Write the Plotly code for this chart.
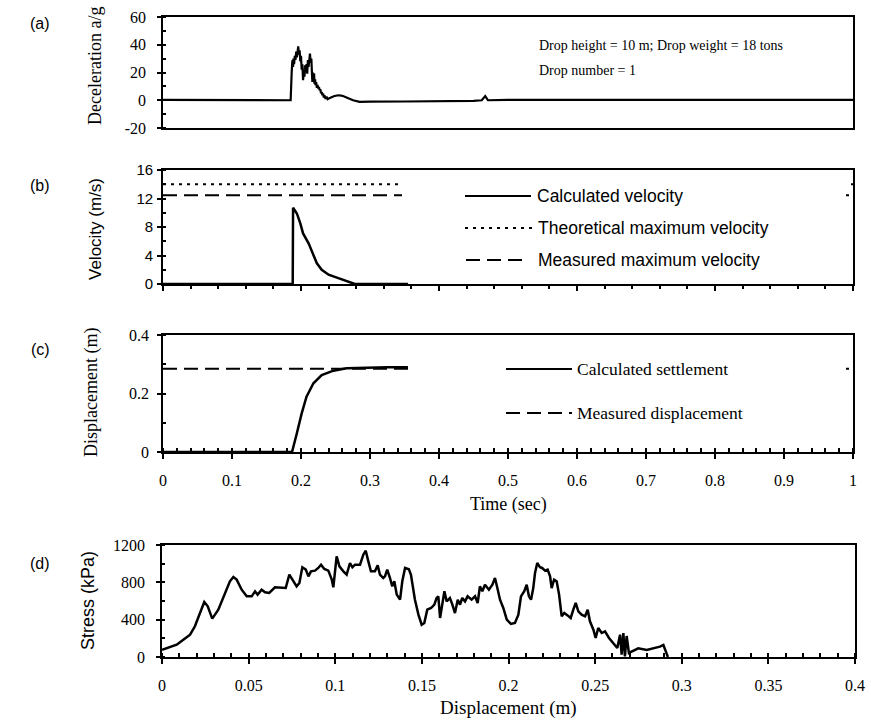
import plotly.graph_objects as go

W, H = 871, 720
SERIF = "Liberation Serif"
SANS = "Liberation Sans"

# ---------------- data ----------------
# (a) deceleration vs time
acc_time = [0, 0.05, 0.10, 0.15, 0.18, 0.185, 0.1865, 0.1875, 0.1885, 0.189, 0.190, 0.191,
            0.192, 0.193, 0.194, 0.195, 0.196, 0.197, 0.198, 0.199, 0.200, 0.201, 0.202,
            0.203, 0.204, 0.205, 0.206, 0.207, 0.208, 0.209, 0.210, 0.211, 0.212, 0.213,
            0.214, 0.215, 0.216, 0.2165, 0.2175, 0.218, 0.219, 0.2195, 0.2205, 0.221, 0.222,
            0.223, 0.224, 0.225, 0.226, 0.227, 0.228, 0.229, 0.230, 0.231, 0.232, 0.233,
            0.234, 0.2355, 0.237, 0.2385, 0.241, 0.244, 0.2475, 0.252, 0.255, 0.26, 0.2635,
            0.2675, 0.2715, 0.2755, 0.285, 0.30, 0.35, 0.40, 0.45, 0.462, 0.467, 0.471,
            0.50, 0.60, 0.70, 0.80, 0.90, 1.0]
acc_g = [0.3, 0.2, 0.3, 0.2, 0.3, 0.0, 20, 28.8, 24, 30, 26, 32,
         29, 35, 31, 37, 38.9, 33, 36, 28, 32, 22, 26,
         14.4, 21, 17, 25.2, 20, 26, 19.2, 29, 24, 31, 33.6,
         27, 30, 18, 13.2, 20, 16, 19.2, 12, 15, 10.8, 13,
         9, 11, 8.4, 9.5, 7.2, 8, 5, 6, 3.6, 5, 2,
         3.5, 1.0, 2.5, 0.8, 1.5, 2.2, 2.9, 3.4, 3.6, 3.2, 2.5,
         1.9, 0.8, 0, -1.2, -1.0, -0.9, -0.8, -0.5, 0, 3, 0,
         0.3, 0.2, 0.3, 0.2, 0.3, 0.2]

# (b) velocity vs time
vel_time = [0, 0.05, 0.10, 0.15, 0.188, 0.1885, 0.194, 0.199, 0.203, 0.211, 0.218, 0.223,
            0.230, 0.240, 0.252, 0.261, 0.271, 0.278, 0.30, 0.33, 0.355]
vel_calc = [0, 0, 0, 0, 0, 10.7, 9.9, 8.5, 7.1, 5.7, 4.1, 2.9,
            2.0, 1.3, 0.9, 0.56, 0.2, 0, 0, 0, 0]
v_theoretical = 14.0
v_measured = 12.45

# (c) displacement vs time
set_time = [0, 0.05, 0.10, 0.15, 0.187, 0.194, 0.201, 0.208, 0.218, 0.230, 0.247, 0.266,
            0.295, 0.325, 0.355]
set_calc = [0, 0, 0, 0, 0, 0.064, 0.132, 0.189, 0.235, 0.263, 0.278, 0.286,
            0.289, 0.29, 0.29]
d_measured = 0.285

# (d) stress vs displacement
sd_disp = [0.0, 0.0037, 0.0085, 0.0123, 0.0162, 0.019, 0.0219, 0.0244, 0.0264, 0.029,
           0.0325, 0.0364, 0.0392, 0.0412, 0.0431, 0.046, 0.0489, 0.0518, 0.0537, 0.0552,
           0.0575, 0.0595, 0.0619, 0.0652, 0.0691, 0.0714, 0.0735, 0.0752, 0.0777, 0.0793,
           0.081, 0.083, 0.0845, 0.086, 0.0883, 0.0902, 0.0918, 0.0937, 0.096, 0.098,
           0.0989, 0.1008, 0.1024, 0.1047, 0.1066, 0.1085, 0.1099, 0.1114, 0.1143, 0.1162,
           0.1176, 0.1191, 0.1206, 0.1229, 0.1245, 0.1258, 0.1277, 0.1287, 0.13, 0.1316,
           0.1329, 0.1341, 0.1355, 0.1374, 0.1387, 0.1403, 0.1425, 0.1437, 0.1446, 0.146,
           0.148, 0.1499, 0.1514, 0.1531, 0.1553, 0.1572, 0.1585, 0.1595, 0.1605, 0.1618,
           0.163, 0.1643, 0.1662, 0.1676, 0.1691, 0.1707, 0.172, 0.1733, 0.1749, 0.1764,
           0.1787, 0.1807, 0.1822, 0.1835, 0.1849, 0.1864, 0.1887, 0.1907, 0.1922, 0.1938,
           0.1951, 0.197, 0.199, 0.2014, 0.2037, 0.2057, 0.2072, 0.2091, 0.2105, 0.2118,
           0.213, 0.2143, 0.2153, 0.2166, 0.2182, 0.2194, 0.2211, 0.2226, 0.224, 0.2249,
           0.2263, 0.2278, 0.2292, 0.2307, 0.2322, 0.2341, 0.2359, 0.2374, 0.2388, 0.2403,
           0.2422, 0.2442, 0.2457, 0.247, 0.249, 0.2503, 0.2518, 0.2538, 0.2557, 0.258,
           0.2605, 0.2628, 0.2644, 0.2653, 0.2663, 0.2672, 0.2682, 0.2695, 0.271, 0.2749,
           0.2798, 0.2836, 0.2874, 0.2894, 0.2913, 0.292]
sd_stress = [78, 104, 132, 186, 239, 329, 471, 589, 543, 411,
             507, 686, 811, 857, 829, 721, 650, 650, 704, 668,
             721, 693, 686, 746, 739, 739, 882, 829, 757, 793,
             961, 936, 864, 918, 925, 954, 989, 943, 925, 829,
             746, 1079, 971, 918, 882, 1007, 961, 989, 989, 1096,
             1139, 1025, 918, 918, 982, 882, 846, 864, 936, 846,
             757, 811, 668, 614, 811, 954, 940, 880, 775, 614,
             454, 346, 364, 507, 525, 561, 632, 650, 418, 579,
             704, 596, 632, 561, 471, 614, 561, 632, 596, 650,
             614, 650, 579, 757, 704, 775, 721, 775, 846, 721,
             614, 525, 400, 354, 364, 454, 650, 704, 775, 650,
             614, 739, 900, 1007, 961, 954, 925, 936, 864, 739,
             829, 811, 668, 436, 471, 446, 418, 507, 579, 489,
             454, 436, 507, 382, 293, 204, 311, 257, 275, 204,
             150, 96, 239, 25, 257, 7, 225, 43, 57, 93,
             75, 93, 111, 129, 40, 0]

# tick labels
acc_tickvals = [-20, 0, 20, 40, 60]
acc_ticktext = ["-20", "0", "20", "40", "60"]
vel_tickvals = [0, 4, 8, 12, 16]
set_tickvals = [0, 0.2, 0.4]
time_tickvals = [0, 0.1, 0.2, 0.3, 0.4, 0.5, 0.6, 0.7, 0.8, 0.9, 1]
stress_tickvals = [0, 400, 800, 1200]
disp_tickvals = [0, 0.05, 0.1, 0.15, 0.2, 0.25, 0.3, 0.35, 0.4]

# ---------------- layout helpers ----------------
def px(x):
    return x / W

def py(y):
    return 1 - y / H

XD_TIME = [px(163), px(853)]
XD_DISP = [px(162), px(855)]
YD_A = [py(128), py(17)]
YD_B = [py(284), py(170)]
YD_C = [py(452), py(335)]
YD_D = [py(657), py(545)]

LINE = dict(color="black", width=2.5)
frame = dict(showline=True, linecolor="black", linewidth=1.6, mirror=True,
             showgrid=False, zeroline=False, automargin=False)

fig = go.Figure()

# (a)
fig.add_trace(go.Scatter(x=acc_time, y=acc_g, mode="lines", line=dict(color="black", width=2.2),
                         xaxis="x", yaxis="y", showlegend=False))
# (b)
fig.add_trace(go.Scatter(x=[0, 1], y=[v_theoretical, v_theoretical], mode="lines",
                         line=dict(color="black", width=2, dash="3px,5px"),
                         xaxis="x2", yaxis="y2", showlegend=False))
fig.add_trace(go.Scatter(x=[0, 1], y=[v_measured, v_measured], mode="lines",
                         line=dict(color="black", width=2, dash="14px,7px"),
                         xaxis="x2", yaxis="y2", showlegend=False))
fig.add_trace(go.Scatter(x=vel_time, y=vel_calc, mode="lines", line=LINE,
                         xaxis="x2", yaxis="y2", showlegend=False, cliponaxis=False))
# (c)
fig.add_trace(go.Scatter(x=[0, 1], y=[d_measured, d_measured], mode="lines",
                         line=dict(color="black", width=2, dash="14px,7px"),
                         xaxis="x3", yaxis="y3", showlegend=False))
fig.add_trace(go.Scatter(x=set_time, y=set_calc, mode="lines", line=LINE,
                         xaxis="x3", yaxis="y3", showlegend=False))
# (d)
fig.add_trace(go.Scatter(x=sd_disp, y=sd_stress, mode="lines", line=LINE,
                         xaxis="x4", yaxis="y4", showlegend=False))

serif_tick = dict(family=SERIF, size=16, color="black")
sans_tick = dict(family=SANS, size=15, color="black")

def minor(tick0, dtick, ticks="inside", ln=3):
    return dict(tickmode="linear", tick0=tick0, dtick=dtick, ticks=ticks,
                ticklen=ln, tickcolor="black", tickwidth=1.5)

fig.update_layout(
    width=W, height=H, autosize=False,
    margin=dict(l=0, r=0, t=0, b=0, pad=0),
    paper_bgcolor="white", plot_bgcolor="white",
    showlegend=False,
    xaxis=dict(domain=XD_TIME, range=[0, 1], anchor="y", showticklabels=False,
               ticks="", **frame),
    yaxis=dict(domain=YD_A, range=[-20, 60], anchor="x", tickmode="array",
               tickvals=acc_tickvals, ticktext=acc_ticktext, ticks="outside",
               ticklen=4, tickwidth=1.5, tickcolor="black", tickfont=serif_tick,
               ticklabelstandoff=8, minor=minor(-20, 10), **frame),
    xaxis2=dict(domain=XD_TIME, range=[0, 1], anchor="y2", showticklabels=False,
                tickmode="linear", tick0=0, dtick=0.2, ticks="outside", ticklen=5,
                tickwidth=1.5, tickcolor="black",
                minor=minor(0, 0.04, "outside", 3), **frame),
    yaxis2=dict(domain=YD_B, range=[0, 16], anchor="x2", tickmode="array",
                tickvals=vel_tickvals, ticks="outside", ticklen=4, tickwidth=1.5,
                tickcolor="black", tickfont=sans_tick, ticklabelstandoff=1,
                minor=minor(0, 2), **frame),
    xaxis3=dict(domain=XD_TIME, range=[0, 1], anchor="y3", tickmode="array",
                tickvals=time_tickvals, ticks="outside", ticklen=5, tickwidth=1.5,
                tickcolor="black", tickfont=serif_tick, ticklabelstandoff=8,
                minor=minor(0, 0.02, "inside", 4), **frame),
    yaxis3=dict(domain=YD_C, range=[0, 0.4], anchor="x3", tickmode="array",
                tickvals=set_tickvals, ticks="outside", ticklen=4, tickwidth=1.5,
                tickcolor="black", tickfont=serif_tick, ticklabelstandoff=5,
                minor=minor(0, 0.1), **frame),
    xaxis4=dict(domain=XD_DISP, range=[0, 0.4], anchor="y4", tickmode="array",
                tickvals=disp_tickvals, ticks="outside", ticklen=5, tickwidth=1.5,
                tickcolor="black", tickfont=serif_tick, ticklabelstandoff=8,
                minor=minor(0, 0.01, "inside", 4), **frame),
    yaxis4=dict(domain=YD_D, range=[0, 1200], anchor="x4", tickmode="array",
                tickvals=stress_tickvals, ticks="outside", ticklen=4, tickwidth=1.5,
                tickcolor="black", tickfont=serif_tick, ticklabelstandoff=8,
                minor=minor(0, 200), **frame),
)

shapes = []
# legend backgrounds (they hide the horizontal reference lines, as in the original)
shapes.append(dict(type="rect", xref="paper", yref="paper", layer="above",
                   x0=px(402), x1=px(846), y0=py(278), y1=py(176),
                   fillcolor="white", line=dict(width=0)))
shapes.append(dict(type="rect", xref="paper", yref="paper", layer="above",
                   x0=px(411), x1=px(846), y0=py(445), y1=py(340),
                   fillcolor="white", line=dict(width=0)))

def sample(x0, x1, y, dash, width):
    shapes.append(dict(type="line", xref="paper", yref="paper", layer="above",
                       x0=px(x0), x1=px(x1), y0=py(y), y1=py(y),
                       line=dict(color="black", width=width, dash=dash)))

sample(465, 531, 196, "solid", 1.8)
sample(465, 533, 228, "3px,5px", 1.8)
sample(466, 528, 260, "14px,7px", 1.8)
sample(506, 572, 369, "solid", 1.8)
sample(506, 572, 413, "14px,7px", 1.8)

annotations = []
def text(x, y, s, family, size, xanchor="left", angle=0):
    annotations.append(dict(x=px(x), y=py(y), xref="paper", yref="paper", text=s,
                            showarrow=False, xanchor=xanchor, yanchor="middle",
                            textangle=angle,
                            font=dict(family=family, size=size, color="black")))

# panel labels
text(40, 24, "(a)", SANS, 16, "center")
text(40, 186, "(b)", SANS, 16, "center")
text(40, 349, "(c)", SANS, 16, "center")
text(40, 563, "(d)", SANS, 16, "center")
# axis titles
text(95, 66, "Deceleration a/g", SERIF, 18, "center", -90)
text(95, 229, "Velocity (m/s)", SANS, 17, "center", -90)
text(92, 393, "Displacement (m)", SERIF, 18, "center", -90)
text(88, 601, "Stress (kPa)", SANS, 18, "center", -90)
text(508, 505, "Time (sec)", SERIF, 18, "center")
text(508, 708, "Displacement (m)", SERIF, 19, "center")
# panel (a) note
text(537, 45, "Drop height = 10 m; Drop weight = 18 tons", SERIF, 14)
text(537, 71, "Drop number = 1", SERIF, 14)
# legends
text(535, 196, "Calculated velocity", SANS, 17.5)
text(536, 228, "Theoretical maximum velocity", SANS, 17.5)
text(536, 260, "Measured maximum velocity", SANS, 17.5)
text(575, 369, "Calculated settlement", SERIF, 17.5)
text(575, 413, "Measured displacement", SERIF, 17.5)

fig.update_layout(shapes=shapes, annotations=annotations)

fig.write_html("out.html", config={"displayModeBar": False},
               post_script="document.body.style.margin='0';document.body.style.padding='0';")
